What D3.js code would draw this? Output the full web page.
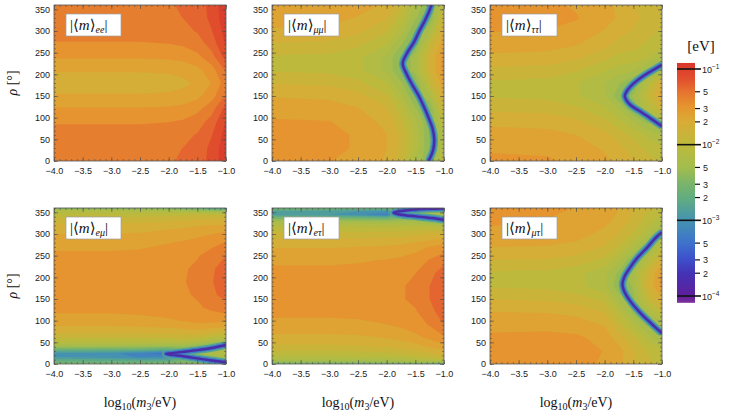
<!DOCTYPE html>
<html>
<head>
<meta charset="utf-8">
<script src="https://cdn.jsdelivr.net/npm/d3@7"></script>
<style>
  body { margin: 0; background: #fff; }
  svg { display: block; }
  .tick text { font-family: "Liberation Sans", Arial, sans-serif; font-size: 9px; fill: #1a1a1a; }
  .tick line { stroke: #4d4d4d; stroke-width: 0.6; }
  .serif { font-family: "Liberation Serif", "DejaVu Serif", serif; fill: #111; }
  .cb { font-family: "Liberation Sans", Arial, sans-serif; font-size: 9px; fill: #222; }
</style>
</head>
<body>
<svg id="chart" width="729" height="414"></svg>
<script>
const xCols = [-4, -3, -2.5, -2, -1.75, -1.5, -1.25, -1];
// rho rows (degrees)
const rhoRows = [0, 30, 60, 90, 120, 150, 180, 210, 240, 270, 300, 330, 360];
const rhoRowsEMu = [0, 8, 16, 24, 32, 42, 55, 70, 85, 100, 130, 160, 190, 220, 250, 280, 310, 330, 345, 355, 360];
const rhoRowsETau = [0, 4, 10, 20, 40, 60, 90, 120, 150, 180, 210, 240, 270, 300, 320, 330, 338, 345, 352, 360];

// log10 |<m>_ab / eV|, one row per rho, one value per xCols entry
const gridEE = [
  [-1.32, -1.32, -1.32, -1.31, -1.29, -1.24, -1.13, -0.95],
  [-1.33, -1.33, -1.33, -1.32, -1.30, -1.25, -1.14, -0.96],
  [-1.37, -1.37, -1.37, -1.36, -1.34, -1.29, -1.18, -0.99],
  [-1.44, -1.44, -1.44, -1.43, -1.41, -1.36, -1.25, -1.03],
  [-1.54, -1.54, -1.54, -1.53, -1.51, -1.46, -1.35, -1.12],
  [-1.67, -1.67, -1.67, -1.66, -1.64, -1.59, -1.48, -1.28],
  [-1.74, -1.74, -1.74, -1.73, -1.71, -1.66, -1.55, -1.36],
  [-1.67, -1.67, -1.67, -1.66, -1.64, -1.59, -1.48, -1.28],
  [-1.54, -1.54, -1.54, -1.53, -1.51, -1.46, -1.35, -1.12],
  [-1.44, -1.44, -1.44, -1.43, -1.41, -1.36, -1.25, -1.03],
  [-1.37, -1.37, -1.37, -1.36, -1.34, -1.29, -1.18, -0.99],
  [-1.33, -1.33, -1.33, -1.32, -1.30, -1.25, -1.14, -0.96],
  [-1.32, -1.32, -1.32, -1.31, -1.29, -1.24, -1.13, -0.95]
];
const gridMuMu = [
  [-1.54, -1.55, -1.59, -1.70, -1.88, -2.20, -2.45, -1.95],
  [-1.51, -1.52, -1.57, -1.68, -1.84, -2.10, -2.45, -2.10],
  [-1.51, -1.52, -1.57, -1.68, -1.84, -2.10, -2.45, -2.15],
  [-1.54, -1.55, -1.61, -1.72, -1.90, -2.15, -2.45, -2.00],
  [-1.60, -1.62, -1.67, -1.80, -2.00, -2.30, -2.45, -1.85],
  [-1.69, -1.71, -1.77, -1.92, -2.15, -2.45, -2.20, -1.70],
  [-1.82, -1.84, -1.90, -2.06, -2.30, -2.45, -1.95, -1.58],
  [-1.95, -1.97, -2.03, -2.22, -2.45, -2.25, -1.80, -1.50],
  [-1.95, -1.97, -2.03, -2.22, -2.45, -2.25, -1.80, -1.50],
  [-1.82, -1.84, -1.90, -2.06, -2.30, -2.45, -1.95, -1.58],
  [-1.70, -1.72, -1.78, -1.92, -2.12, -2.45, -2.20, -1.70],
  [-1.62, -1.64, -1.69, -1.80, -2.00, -2.30, -2.45, -1.85],
  [-1.58, -1.60, -1.64, -1.70, -1.90, -2.20, -2.45, -2.00]
];
const gridTauTau = [
  [-1.53, -1.54, -1.58, -1.65, -1.72, -1.80, -1.90, -1.95],
  [-1.57, -1.58, -1.62, -1.70, -1.78, -1.87, -1.97, -2.02],
  [-1.63, -1.64, -1.68, -1.78, -1.87, -1.97, -2.10, -2.20],
  [-1.71, -1.73, -1.78, -1.90, -2.02, -2.17, -2.35, -2.30],
  [-1.83, -1.85, -1.91, -2.04, -2.20, -2.45, -2.10, -1.85],
  [-1.95, -1.97, -2.04, -2.18, -2.40, -2.30, -1.95, -1.62],
  [-1.96, -1.98, -2.05, -2.19, -2.30, -2.45, -2.10, -1.70],
  [-1.84, -1.86, -1.92, -2.05, -2.12, -2.17, -2.35, -2.30],
  [-1.71, -1.73, -1.78, -1.89, -1.97, -1.97, -2.05, -2.20],
  [-1.61, -1.62, -1.67, -1.77, -1.85, -1.90, -1.95, -2.00],
  [-1.55, -1.56, -1.60, -1.69, -1.76, -1.82, -1.90, -1.95],
  [-1.50, -1.51, -1.545, -1.63, -1.70, -1.78, -1.85, -1.90],
  [-1.52, -1.53, -1.57, -1.64, -1.71, -1.80, -1.90, -1.95]
];
const gridEMu = [
  [-2.50, -2.50, -2.48, -2.45, -2.40, -2.40, -2.45, -2.50],
  [-2.70, -2.72, -2.75, -2.75, -2.55, -2.55, -2.55, -2.45],
  [-2.95, -3.00, -3.10, -3.05, -2.60, -2.55, -2.40, -2.20],
  [-3.00, -3.05, -3.15, -3.35, -2.50, -2.35, -2.20, -2.10],
  [-2.65, -2.68, -2.72, -2.80, -2.55, -2.55, -2.45, -2.20],
  [-2.25, -2.26, -2.27, -2.30, -2.30, -2.40, -2.50, -2.50],
  [-2.00, -2.00, -2.00, -2.00, -1.98, -2.05, -2.15, -2.20],
  [-1.82, -1.82, -1.82, -1.80, -1.78, -1.78, -1.85, -1.90],
  [-1.70, -1.70, -1.69, -1.67, -1.65, -1.62, -1.65, -1.68],
  [-1.60, -1.60, -1.59, -1.57, -1.55, -1.52, -1.52, -1.52],
  [-1.52, -1.52, -1.51, -1.49, -1.48, -1.45, -1.40, -1.35],
  [-1.48, -1.48, -1.47, -1.45, -1.45, -1.41, -1.33, -1.25],
  [-1.46, -1.46, -1.45, -1.44, -1.435, -1.40, -1.31, -1.22],
  [-1.48, -1.48, -1.47, -1.44, -1.445, -1.40, -1.32, -1.24],
  [-1.53, -1.53, -1.52, -1.49, -1.48, -1.44, -1.37, -1.30],
  [-1.60, -1.60, -1.59, -1.56, -1.54, -1.52, -1.47, -1.42],
  [-1.72, -1.72, -1.71, -1.68, -1.66, -1.62, -1.60, -1.58],
  [-1.85, -1.85, -1.84, -1.82, -1.80, -1.77, -1.76, -1.75],
  [-2.00, -2.00, -2.00, -1.98, -1.97, -1.95, -1.96, -1.95],
  [-2.20, -2.20, -2.22, -2.25, -2.30, -2.35, -2.45, -2.50],
  [-2.50, -2.50, -2.50, -2.55, -2.60, -2.65, -2.80, -2.85]
];
const gridETau = [
  [-2.55, -2.55, -2.55, -2.55, -2.55, -2.55, -2.60, -2.75],
  [-2.40, -2.40, -2.40, -2.38, -2.36, -2.33, -2.30, -2.30],
  [-2.20, -2.20, -2.20, -2.18, -2.15, -2.10, -2.05, -2.00],
  [-2.04, -2.04, -2.03, -2.00, -1.97, -1.93, -1.88, -1.82],
  [-1.84, -1.84, -1.83, -1.80, -1.77, -1.73, -1.67, -1.60],
  [-1.72, -1.72, -1.71, -1.68, -1.65, -1.60, -1.53, -1.45],
  [-1.60, -1.60, -1.59, -1.56, -1.53, -1.48, -1.42, -1.30],
  [-1.52, -1.52, -1.51, -1.48, -1.48, -1.44, -1.36, -1.21],
  [-1.49, -1.49, -1.48, -1.45, -1.44, -1.40, -1.30, -1.18],
  [-1.49, -1.49, -1.48, -1.45, -1.44, -1.40, -1.30, -1.19],
  [-1.52, -1.52, -1.51, -1.48, -1.47, -1.43, -1.34, -1.24],
  [-1.58, -1.58, -1.57, -1.55, -1.53, -1.50, -1.42, -1.34],
  [-1.69, -1.69, -1.68, -1.66, -1.64, -1.60, -1.55, -1.50],
  [-1.88, -1.88, -1.88, -1.87, -1.86, -1.84, -1.80, -1.77],
  [-2.10, -2.10, -2.10, -2.10, -2.10, -2.10, -2.10, -2.20],
  [-2.28, -2.30, -2.32, -2.35, -2.30, -2.30, -2.45, -2.55],
  [-2.55, -2.58, -2.62, -2.70, -2.50, -2.55, -2.55, -2.40],
  [-2.90, -2.95, -3.05, -3.20, -2.55, -2.50, -2.30, -2.15],
  [-2.85, -2.90, -2.95, -3.00, -2.55, -2.50, -2.30, -2.30],
  [-2.55, -2.56, -2.58, -2.60, -2.45, -2.55, -2.55, -2.60]
];
const gridMuTau = [
  [-1.505, -1.51, -1.52, -1.57, -1.65, -1.78, -1.90, -1.98],
  [-1.505, -1.50, -1.50, -1.56, -1.63, -1.80, -1.95, -2.05],
  [-1.532, -1.52, -1.53, -1.60, -1.75, -1.90, -2.10, -2.30],
  [-1.589, -1.59, -1.61, -1.69, -1.90, -2.10, -2.35, -2.25],
  [-1.68, -1.69, -1.72, -1.82, -2.05, -2.35, -2.20, -1.95],
  [-1.811, -1.83, -1.87, -1.98, -2.25, -2.35, -1.95, -1.70],
  [-1.952, -1.97, -2.02, -2.15, -2.42, -2.30, -1.80, -1.50],
  [-1.952, -1.97, -2.02, -2.15, -2.35, -2.25, -1.85, -1.52],
  [-1.811, -1.82, -1.86, -1.97, -2.15, -2.45, -2.10, -1.75],
  [-1.68, -1.69, -1.72, -1.82, -1.95, -2.15, -2.45, -2.00],
  [-1.589, -1.60, -1.63, -1.72, -1.82, -1.95, -2.15, -2.40],
  [-1.532, -1.56, -1.58, -1.65, -1.72, -1.85, -2.00, -2.15],
  [-1.52, -1.53, -1.56, -1.62, -1.68, -1.80, -1.90, -1.98]
];

// lines where the element vanishes: [rho, log10(m3/eV)]
const zeroMuMu = [[0, -1.27], [25, -1.19], [50, -1.17], [75, -1.20], [100, -1.27], [125, -1.35], [150, -1.44],
  [175, -1.55], [200, -1.65], [225, -1.72], [250, -1.64], [275, -1.52], [300, -1.43], [325, -1.33], [345, -1.26], [360, -1.22]];
const zeroTauTau = [[80, -1.0], [91, -1.12], [103, -1.25], [116, -1.40], [128, -1.54], [140, -1.62], [150, -1.65],
  [160, -1.62], [172, -1.55], [186, -1.43], [200, -1.28], [212, -1.13], [222, -1.0]];
const zeroMuTau = [[71, -1.0], [85, -1.12], [100, -1.24], [121, -1.40], [148, -1.57], [168, -1.66], [184, -1.69],
  [200, -1.66], [220, -1.57], [245, -1.43], [270, -1.25], [290, -1.12], [304, -1.0]];
const zeroEMu = [[44, -1.0], [37, -1.25], [32, -1.5], [28, -1.75], [25, -1.95], [23.5, -2.05],
  [21, -1.95], [18, -1.75], [13, -1.5], [8, -1.25], [4, -1.0]];
const zeroETau = [[359, -1.0], [358, -1.3], [355.5, -1.6], [352, -1.8], [349, -1.88],
  [345.5, -1.8], [342, -1.6], [338, -1.3], [333, -1.0]];

const xTicks = [-4, -3.5, -3, -2.5, -2, -1.5, -1];
const rhoTicks = [0, 50, 100, 150, 200, 250, 300, 350];
const barDecades = [-1, -2, -3, -4];
const barMinor = [5, 3, 2];

// colour map sampled from the colour bar
const cStops = [-4.09, -4.0, -3.7, -3.5, -3.3, -3.0, -2.7, -2.5, -2.3, -2.0, -1.7, -1.5, -1.3, -1.15, -0.92];
const cHex = ["#80309c", "#5e1f9a", "#4433b5", "#3d52cc", "#3e72cc", "#4593b0", "#62ad80", "#7db568",
  "#a3bd4d", "#bdb93c", "#d9ac36", "#e5952f", "#e6732f", "#e2522e", "#d9362b"];
const color = d3.scaleLinear().domain(cStops).range(cHex).clamp(true);

const levels = d3.range(26).map(k => -4.095 + 0.127 * k);
const bandColor = v => color(v + 0.0635);

const svg = d3.select("#chart");
const colLeft = [54, 272, 490], plotW = 172;
const rowTop = [5, 208], plotH = 156;

const panels = [
  { sub: "ee", grid: gridEE, rows: rhoRows, zero: [], col: 0, row: 0 },
  { sub: "μμ", grid: gridMuMu, rows: rhoRows, zero: [zeroMuMu], col: 1, row: 0 },
  { sub: "ττ", grid: gridTauTau, rows: rhoRows, zero: [zeroTauTau], col: 2, row: 0 },
  { sub: "eμ", grid: gridEMu, rows: rhoRowsEMu, zero: [zeroEMu], col: 0, row: 1 },
  { sub: "eτ", grid: gridETau, rows: rhoRowsETau, zero: [zeroETau], col: 1, row: 1 },
  { sub: "μτ", grid: gridMuTau, rows: rhoRows, zero: [zeroMuTau], col: 2, row: 1 }
];

const halo = [[7.5, "#55a396"], [4.6, "#3f78c8"], [2.4, "#4a2ca6"]];

panels.forEach((p, i) => {
  const x0 = colLeft[p.col], y0 = rowTop[p.row];
  const x = d3.scaleLinear().domain([-4, -1]).range([x0, x0 + plotW]);
  const y = d3.scaleLinear().domain([0, 360]).range([y0 + plotH, y0]);
  const g = svg.append("g");

  svg.append("clipPath").attr("id", "clip" + i)
    .append("rect").attr("x", x0).attr("y", y0).attr("width", plotW).attr("height", plotH);

  const n = xCols.length, m = p.rows.length;
  const ix = d3.scaleLinear().domain(d3.range(n)).range(xCols);
  const iy = d3.scaleLinear().domain(d3.range(m)).range(p.rows);
  const proj = d3.geoTransform({
    point(px, py) {
      const gx = Math.max(0, Math.min(n - 1, px - 0.5));
      const gy = Math.max(0, Math.min(m - 1, py - 0.5));
      this.stream.point(x(ix(gx)), y(iy(gy)));
    }
  });
  const path = d3.geoPath(proj);
  const bands = d3.contours().size([n, m]).thresholds(levels)(p.grid.flat());

  const plot = g.append("g").attr("clip-path", `url(#clip${i})`);
  plot.selectAll("path.band").data(bands).join("path")
    .attr("class", "band")
    .attr("d", path)
    .attr("fill", d => bandColor(d.value));

  const line = d3.line().x(d => x(d[1])).y(d => y(d[0])).curve(d3.curveCatmullRom);
  p.zero.forEach(z => {
    halo.forEach(([w, c]) => {
      plot.append("path").attr("d", line(z))
        .attr("fill", "none").attr("stroke", c).attr("stroke-width", w)
        .attr("stroke-linecap", "butt").attr("stroke-linejoin", "round");
    });
  });

  // frame ticks
  g.append("g").attr("transform", `translate(0,${y0 + plotH})`)
    .call(d3.axisBottom(x).tickValues(xTicks).tickSize(-4).tickPadding(7).tickFormat(d3.format(".1f")));
  g.append("g").attr("transform", `translate(0,${y0 + plotH})`)
    .call(d3.axisBottom(x).tickValues(d3.range(-4, -0.95, 0.1)).tickSize(-2).tickFormat(""));
  g.append("g").attr("transform", `translate(0,${y0})`)
    .call(d3.axisTop(x).tickValues(xTicks).tickSize(-4).tickFormat(""));
  g.append("g").attr("transform", `translate(0,${y0})`)
    .call(d3.axisTop(x).tickValues(d3.range(-4, -0.95, 0.1)).tickSize(-2).tickFormat(""));
  g.append("g").attr("transform", `translate(${x0},0)`)
    .call(d3.axisLeft(y).tickValues(rhoTicks).tickSize(-4).tickPadding(4));
  g.append("g").attr("transform", `translate(${x0},0)`)
    .call(d3.axisLeft(y).tickValues(d3.range(0, 361, 10)).tickSize(-2).tickFormat(""));
  g.append("g").attr("transform", `translate(${x0 + plotW},0)`)
    .call(d3.axisRight(y).tickValues(rhoTicks).tickSize(-4).tickFormat(""));
  g.append("g").attr("transform", `translate(${x0 + plotW},0)`)
    .call(d3.axisRight(y).tickValues(d3.range(0, 361, 10)).tickSize(-2).tickFormat(""));
  g.selectAll(".domain").remove();

  g.append("rect").attr("x", x0).attr("y", y0).attr("width", plotW).attr("height", plotH)
    .attr("fill", "none").attr("stroke", "#555").attr("stroke-width", 0.8);

  // element label
  g.append("rect").attr("x", x0 + 12).attr("y", y0 + 9).attr("width", 55).attr("height", 22)
    .attr("fill", "#fff").attr("stroke", "#a0a0a0").attr("stroke-width", 0.7);
  const t = g.append("text").attr("class", "serif").attr("x", x0 + 16).attr("y", y0 + 25).attr("font-size", 15);
  t.append("tspan").text("|⟨");
  t.append("tspan").attr("font-style", "italic").text("m");
  t.append("tspan").text("⟩");
  t.append("tspan").attr("font-style", "italic").attr("font-size", 10).attr("dy", 3).text(p.sub);
  t.append("tspan").attr("dy", -3).text("|");

  if (p.col === 0) {
    const r = g.append("text").attr("class", "serif").attr("font-size", 14).attr("text-anchor", "middle")
      .attr("transform", `translate(17,${y0 + plotH / 2}) rotate(-90)`);
    r.append("tspan").attr("font-style", "italic").text("ρ");
    r.append("tspan").text(" [°]");
  }
  if (p.row === 1) {
    const lt = g.append("text").attr("class", "serif").attr("font-size", 14).attr("text-anchor", "middle")
      .attr("x", x0 + plotW / 2).attr("y", 407);
    lt.append("tspan").text("log");
    lt.append("tspan").attr("font-size", 10).attr("dy", 3).text("10");
    lt.append("tspan").attr("dy", -3).text("(");
    lt.append("tspan").attr("font-style", "italic").text("m");
    lt.append("tspan").attr("font-size", 10).attr("dy", 3).text("3");
    lt.append("tspan").attr("dy", -3).text("/eV)");
  }
});

// colour bar
const cbX = 677, cbW = 18;
const cb = d3.scaleLinear().domain([-1, -4]).range([69, 296]);
const cbTop = cStops[cStops.length - 1], cbBot = cStops[0];
const grad = svg.append("defs").append("linearGradient").attr("id", "cbgrad")
  .attr("x1", 0).attr("y1", 0).attr("x2", 0).attr("y2", 1);
// stops must run top (high value) to bottom (low value)
cStops.map((v, k) => [v, cHex[k]]).reverse().forEach(([v, c]) => {
  grad.append("stop").attr("offset", (cb(v) - cb(cbTop)) / (cb(cbBot) - cb(cbTop))).attr("stop-color", c);
});
svg.append("rect").attr("x", cbX).attr("y", cb(cbTop)).attr("width", cbW).attr("height", cb(cbBot) - cb(cbTop))
  .attr("fill", "url(#cbgrad)");

barDecades.forEach(d => {
  svg.append("line").attr("x1", cbX).attr("x2", cbX + cbW + 6).attr("y1", cb(d)).attr("y2", cb(d))
    .attr("stroke", "#111").attr("stroke-width", 1.6);
  const lab = svg.append("text").attr("class", "cb").attr("x", cbX + cbW + 7).attr("y", cb(d) + 3.5);
  lab.append("tspan").text("10");
  lab.append("tspan").attr("font-size", 6.5).attr("dy", -4).text("−" + (-d));
});
barDecades.slice(1).forEach(e => {
  barMinor.forEach(k => {
    const v = Math.log10(k) + e;
    svg.append("line").attr("x1", cbX + cbW).attr("x2", cbX + cbW + 5).attr("y1", cb(v)).attr("y2", cb(v))
      .attr("stroke", "#111").attr("stroke-width", 1.2);
    svg.append("text").attr("class", "cb").attr("x", cbX + cbW + 8).attr("y", cb(v) + 3.5).text(k);
  });
});
svg.append("text").attr("class", "serif").attr("font-size", 15).attr("text-anchor", "middle")
  .attr("x", 701).attr("y", 51).text("[eV]");
</script>
</body>
</html>
